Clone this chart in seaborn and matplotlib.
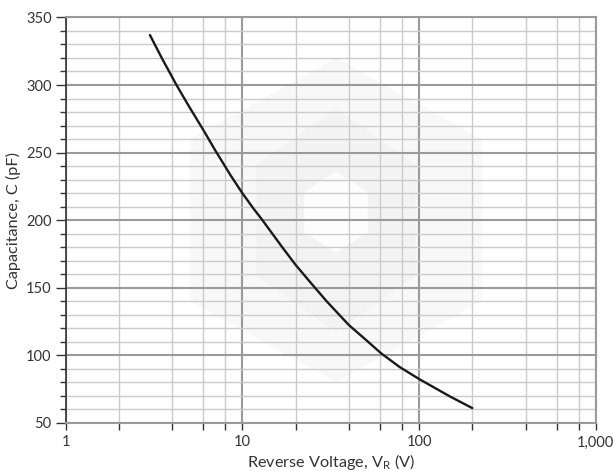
import matplotlib
matplotlib.use("Agg")
import matplotlib.pyplot as plt
import matplotlib.ticker as mticker
from matplotlib.patches import Polygon
import seaborn as sns
import pandas as pd

# Capacitance vs reverse voltage
voltage = [3, 3.5, 4.24, 5, 6, 7, 8.6, 10, 11.5, 13, 16.6, 20, 25, 30, 40,
           50, 61, 77.4, 100, 150, 200]
capacitance = [337, 320, 300, 284, 267, 252, 233, 220, 209, 200, 181, 167,
               152, 140, 122.5, 111.5, 101.5, 91.5, 82.5, 69.5, 61]

x_ticks = [1, 10, 100, 1000]
x_tick_labels = ["1", "10", "100", "1,000"]
y_ticks = [50, 100, 150, 200, 250, 300, 350]

df = pd.DataFrame({"V": voltage, "C": capacitance})

sns.set_style("white")
plt.rcParams["font.family"] = ["Lato", "DejaVu Sans"]

fig = plt.figure(figsize=(6.13, 4.71), dpi=100)
ax = fig.add_axes([0.107, 0.102, 0.865, 0.861])

# faint watermark cube in the background
def hexagon(cx, cy, w, h):
    return [(cx, cy + h / 2), (cx + w / 2, cy + h / 4), (cx + w / 2, cy - h / 4),
            (cx, cy - h / 2), (cx - w / 2, cy - h / 4), (cx - w / 2, cy + h / 4)]

ax.add_patch(Polygon(hexagon(0.51, 0.50, 0.55, 0.80), closed=True, transform=ax.transAxes,
                     facecolor="#f8f8f8", edgecolor="none", zorder=0))
ax.add_patch(Polygon(hexagon(0.51, 0.50, 0.30, 0.55), closed=True, transform=ax.transAxes,
                     facecolor="#f3f3f3", edgecolor="none", zorder=0))
ax.add_patch(Polygon(hexagon(0.51, 0.52, 0.12, 0.20), closed=True, transform=ax.transAxes,
                     facecolor="#fdfdfd", edgecolor="none", zorder=0))

sns.lineplot(data=df, x="V", y="C", ax=ax, color="#1a1a1a", linewidth=1.7, zorder=3)

ax.set_xscale("log")
ax.set_xlim(1, 1000)
ax.set_ylim(50, 350)
ax.set_xticks(x_ticks)
ax.set_xticklabels(x_tick_labels)
ax.xaxis.set_minor_locator(mticker.LogLocator(base=10, subs=[2, 4, 6, 8]))
ax.xaxis.set_minor_formatter(mticker.NullFormatter())
ax.set_yticks(y_ticks)
ax.yaxis.set_minor_locator(mticker.MultipleLocator(10))

ax.grid(which="major", color="#9a9a9a", linewidth=1.5, zorder=1)
ax.grid(which="minor", color="#cbcbcb", linewidth=1.0, zorder=1)
ax.set_axisbelow(True)

for side in ["top", "right", "bottom"]:
    ax.spines[side].set_color("#9a9a9a")
    ax.spines[side].set_linewidth(1.5)
ax.spines["left"].set_color("#333333")
ax.spines["left"].set_linewidth(1.2)

ax.tick_params(axis="y", which="major", direction="out", length=7, width=1, color="#333333",
               labelsize=10.5, labelcolor="#333333", left=True, pad=3)
ax.tick_params(axis="y", which="minor", direction="out", length=4, width=1, color="#333333", left=True)
ax.tick_params(axis="x", which="both", direction="out", length=5, width=1, color="#333333",
               bottom=True, labelsize=10.5, labelcolor="#333333", pad=4)

ax.set_xlabel("Reverse Voltage, V$_\\mathregular{R}$ (V)", fontsize=11.7, color="#333333", labelpad=2)
ax.set_ylabel("Capacitance, C (pF)", fontsize=11.7, color="#333333", labelpad=4)

fig.savefig("out.png", dpi=100)
